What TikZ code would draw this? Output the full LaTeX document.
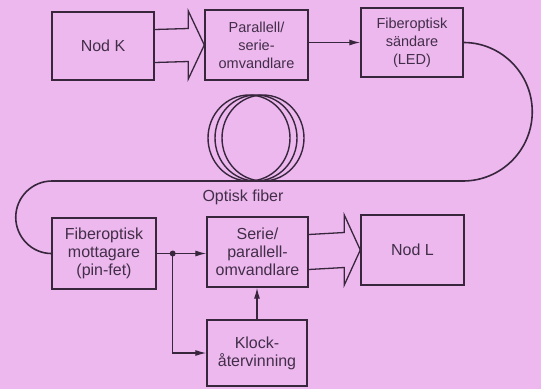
\documentclass[tikz,border=0pt]{standalone}
\usepackage{fontspec}
\setmainfont{Liberation Sans}
\usetikzlibrary{calc,arrows.meta}
\definecolor{bgpink}{RGB}{236,184,238}
\definecolor{ink}{RGB}{55,38,60}
\definecolor{txt}{RGB}{66,46,72}
\tikzset{
  box/.style={draw=ink,line width=1.4pt,align=center,text=txt,inner sep=0pt},
  upbox/.style={box,font=\fontsize{14.5}{18}\selectfont},
  lowbox/.style={box,font=\fontsize{16}{18}\selectfont},
  wire/.style={draw=ink,line width=1.3pt},
  sig/.style={wire,-{Latex[length=11pt,width=6pt]}},
  fat/.style={draw=ink,line width=1.3pt,line join=miter},
  fiber/.style={draw=ink,line width=1.6pt}
}
\newcommand\fatarrow[4]{% from node, to node, shaft half width, head half width
  \draw[fat] ($(#1.east)+(0,-#3)$) -- ($(#2.west)+(-16,-#3)$) -- ($(#2.west)+(-16,-#4)$)
    -- (#2.west) -- ($(#2.west)+(-16,#4)$) -- ($(#2.west)+(-16,#3)$) -- ($(#1.east)+(0,#3)$);}
\begin{document}
\begin{tikzpicture}[x=1pt,y=-1pt]
\fill[bgpink] (0,0) rectangle (541,389);
\useasboundingbox (0,0) rectangle (541,389);

% upper row
\node[upbox,minimum width=102pt,minimum height=68pt,font=\fontsize{16}{18}\selectfont] (K) at (103,46) {Nod K};
\node[upbox,minimum width=103pt,minimum height=70pt] (PS) at (256.5,45) {Parallell/\\serie-\\omvandlare};
\node[upbox,minimum width=102pt,minimum height=69pt] (S) at (412,42.5) {Fiberoptisk\\sändare\\(LED)};

% lower row
\node[lowbox,minimum width=104pt,minimum height=71pt] (M) at (104,253.5) {Fiberoptisk\\mottagare\\(pin-fet)};
\node[lowbox,minimum width=101pt,minimum height=70pt] (SP) at (257.5,252) {Serie/\\parallell-\\omvandlare};
\node[lowbox,minimum width=103pt,minimum height=70pt] (L) at (412.5,250) {Nod L};
\node[lowbox,minimum width=100pt,minimum height=66pt] (KL) at (257,353) {Klock-\\återvinning};

% fat arrows
\fatarrow{K}{PS}{16.5}{34}
\fatarrow{SP}{L}{17.5}{35}

% thin arrows
\draw[sig] (PS.east |- S.west) -- (S.west);
\coordinate (d) at ($(M.east)+(16,0)$);
\draw[sig] (M.east) -- (M.east -| SP.west);
\draw[sig] (d) |- (KL.west);
\fill[ink] (d) circle (3pt);
\draw[sig] (KL.north) -- (KL.north |- SP.south);

% optical fiber
\coordinate (fr) at (463,181);
\coordinate (fl) at (52,181);
\draw[fiber] (S.east) .. controls (501.25,42.5) and (532.25,73.5) .. (532.25,111.75)
  .. controls (532.25,150) and (501.25,181) .. (fr) -- (fl)
  .. controls (32,181) and (15.75,197.25) .. (15.75,217.25)
  .. controls (15.75,237.25) and (32,253.5) .. (M.west);
\foreach \cx in {249,256,263}
  \draw[fiber,line width=1.4pt] (\cx,138) ellipse [x radius=41, y radius=43];
\node[text=txt,font=\fontsize{16}{18}\selectfont,inner sep=0pt] (lab) at (243,197) {Optisk fiber};
\end{tikzpicture}
\end{document}
